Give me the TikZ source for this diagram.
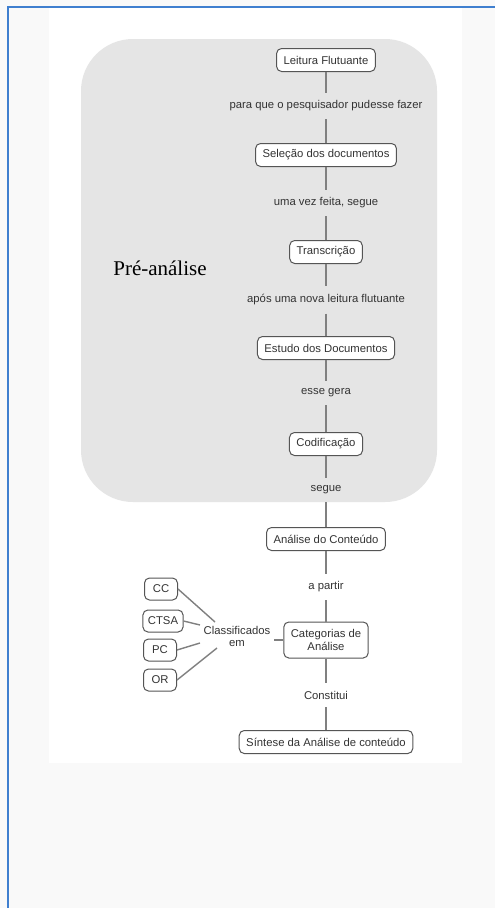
\documentclass[tikz,border=0pt]{standalone}
\usepackage{fontspec}
\setmainfont{Liberation Serif}
\setsansfont{Liberation Sans}
\definecolor{pagebg}{HTML}{F9F9F9}
\definecolor{bluebar}{HTML}{3F7FCF}
\definecolor{regiongray}{HTML}{E5E5E5}
\definecolor{boxline}{HTML}{555555}
\definecolor{conn}{HTML}{808080}
\definecolor{txt}{HTML}{333333}
\tikzset{
  cbox/.style={draw=boxline, line width=1bp, rounded corners=5bp, fill=white,
    font=\sffamily\fontsize{11.3bp}{13bp}\selectfont, text=txt,
    inner xsep=7bp, inner ysep=0bp, minimum height=23bp, align=center},
  clabel/.style={font=\sffamily\fontsize{11.3bp}{13bp}\selectfont, text=txt,
    inner xsep=3bp, inner ysep=8bp, align=center},
  cline/.style={draw=conn, line width=1.4bp},
}
\begin{document}
\begin{tikzpicture}[x=1bp,y=-1bp]
\useasboundingbox (0,0) rectangle (495,908);
% backgrounds
\fill[pagebg] (0,0) rectangle (495,908);
\fill[white] (49,8) rectangle (462,763);
\draw[bluebar, line width=1.6bp] (495,7) -- (8,7) -- (8,908);
\fill[regiongray, rounded corners=52bp] (81,39) rectangle (437,502);
% title
\node[font=\rmfamily\fontsize{21bp}{24bp}\selectfont, text=black] (pre) at (160,268) {Pré-análise};
% chain
\node[cbox] (lf) at (326,60) {Leitura Flutuante};
\node[clabel] (l1) at (326,106) {para que o pesquisador pudesse fazer};
\node[cbox] (sd) at (326,155) {Seleção dos documentos};
\node[clabel] (l2) at (326,203) {uma vez feita, segue};
\node[cbox] (tr) at (326,252) {Transcrição};
\node[clabel] (l3) at (326,300) {após uma nova leitura flutuante};
\node[cbox] (ed) at (326,348) {Estudo dos Documentos};
\node[clabel] (l4) at (326,393) {esse gera};
\node[cbox] (co) at (326,444) {Codificação};
\node[clabel] (l5) at (326,490) {segue};
\node[cbox] (ac) at (326,539) {Análise do Conteúdo};
\node[clabel] (l6) at (326,587) {a partir};
\node[cbox, minimum height=36bp] (ca) at (326,640) {Categorias de\\Análise};
\node[clabel] (l7) at (326,695) {Constitui};
\node[cbox] (si) at (326,742) {Síntese da Análise de conteúdo};
\draw[cline] (lf.south) -- (l1.north);
\draw[cline] (l1.south) -- (sd.north);
\draw[cline] (sd.south) -- (l2.north);
\draw[cline] (l2.south) -- (tr.north);
\draw[cline] (tr.south) -- (l3.north);
\draw[cline] (l3.south) -- (ed.north);
\draw[cline] (ed.south) -- (l4.north);
\draw[cline] (l4.south) -- (co.north);
\draw[cline] (co.south) -- (l5.north);
\draw[cline] (l5.south) -- (ac.north);
\draw[cline] (ac.south) -- (l6.north);
\draw[cline] (l6.south) -- (ca.north);
\draw[cline] (ca.south) -- (l7.north);
\draw[cline] (l7.south) -- (si.north);
% classification
\node[clabel, inner xsep=4bp, inner ysep=2bp, font=\sffamily\fontsize{11.3bp}{12bp}\selectfont] (cl) at (237,636) {Classificados\\em};
\node[cbox, minimum width=33bp, inner xsep=5bp, minimum height=22bp] (cc) at (161,589) {CC};
\node[cbox, minimum width=33bp, inner xsep=5bp, minimum height=22bp] (ct) at (163,621) {CTSA};
\node[cbox, minimum width=33bp, inner xsep=5bp, minimum height=22bp] (pc) at (160,650) {PC};
\node[cbox, minimum width=33bp, inner xsep=5bp, minimum height=22bp] (or) at (160,680) {OR};
\coordinate (ecc) at (215,622);
\coordinate (ect) at (200,625);
\coordinate (epc) at (200,643);
\coordinate (eor) at (217,648);
\draw[cline] (cc.east) -- (ecc);
\draw[cline] (ct.east) -- (ect);
\draw[cline] (pc.east) -- (epc);
\draw[cline] (or.east) -- (eor);
\draw[cline] (cl.east |- ca.west) -- (ca.west);
\end{tikzpicture}
\end{document}
